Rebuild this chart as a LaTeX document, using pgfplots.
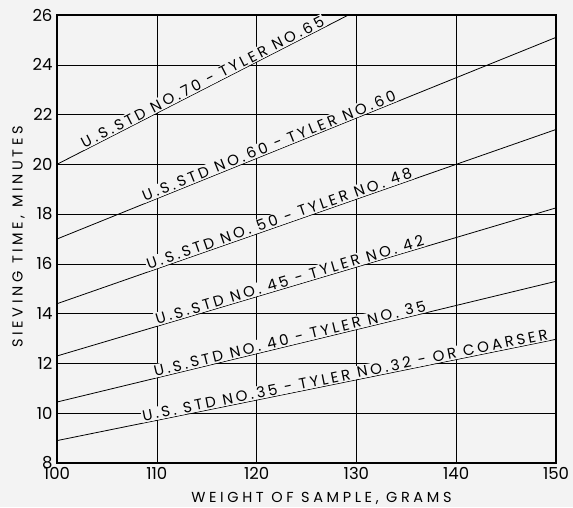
\documentclass[border=0pt]{standalone}
\usepackage{fontspec}
\setmainfont{Poppins}
\newfontfamily\spaced[LetterSpace=20]{Poppins}
\newfontfamily\wide[LetterSpace=25]{Poppins}
\usepackage{pgfplots}
\pgfplotsset{compat=1.18}
\usetikzlibrary{backgrounds}
\definecolor{bg}{HTML}{F3F3F3}
\tikzset{lbl/.style={sloped, above, pos=#1, inner sep=1pt, fill=bg, font=\spaced\fontsize{15}{15}\selectfont}}

\begin{document}
\begin{tikzpicture}
\begin{axis}[
    width=499pt, height=448pt, scale only axis,
    xmin=100, xmax=150, ymin=8, ymax=26,
    xtick={100,110,...,150}, ytick={8,10,...,26},
    grid=major, grid style={black, line width=0.5pt},
    axis line style={line width=1.3pt},
    tick style={draw=none},
    /pgf/number format/assume math mode=true,
    tick label style={font=\fontsize{16.5}{16.5}\selectfont},
    xticklabel style={yshift=-1pt},
    yticklabel style={xshift=-1pt},
    xlabel={WEIGHT OF SAMPLE, GRAMS},
    ylabel={SIEVING TIME, MINUTES},
    label style={font=\wide\fontsize{14.5}{14.5}\selectfont},
    xlabel style={at={(axis description cs:0.53,-0.079)}, anchor=center},
    ylabel style={at={(axis description cs:-0.077,0.505)}, anchor=center},
]
\coordinate (bl) at (rel axis cs:0,0);
\coordinate (tr) at (rel axis cs:1,1);

\addplot[black, line width=0.8pt] coordinates {(100,20) (129.2,26)}
    node[lbl=0.51] {U.S.STD NO.70 - TYLER NO.65};
\addplot[black, line width=0.8pt] coordinates {(100,17.0) (150,25.1)}
    node[lbl=0.43] {U.S.STD NO.60 - TYLER NO.60};
\addplot[black, line width=0.8pt] coordinates {(100,14.4) (150,21.4)}
    node[lbl=0.45] {U.S.STD NO. 50 - TYLER NO. 48};
\addplot[black, line width=0.8pt] coordinates {(100,12.3) (150,18.25)}
    node[lbl=0.47] {U.S.STD NO. 45 - TYLER NO. 42};
\addplot[black, line width=0.8pt] coordinates {(100,10.45) (150,15.3)}
    node[lbl=0.47] {U.S.STD NO. 40 - TYLER NO. 35};
\addplot[black, line width=0.8pt] coordinates {(100,8.9) (150,12.97)}
    node[lbl=0.58] {U.S. STD NO.35 - TYLER NO.32 - OR COARSER};
\end{axis}
\pgfresetboundingbox
\path ([shift={(-57pt,-44pt)}]bl) rectangle ([shift={(17pt,15pt)}]tr);
\begin{scope}[on background layer]
\fill[bg] ([shift={(-57pt,-44pt)}]bl) rectangle ([shift={(17pt,15pt)}]tr);
\end{scope}
\end{tikzpicture}
\end{document}
